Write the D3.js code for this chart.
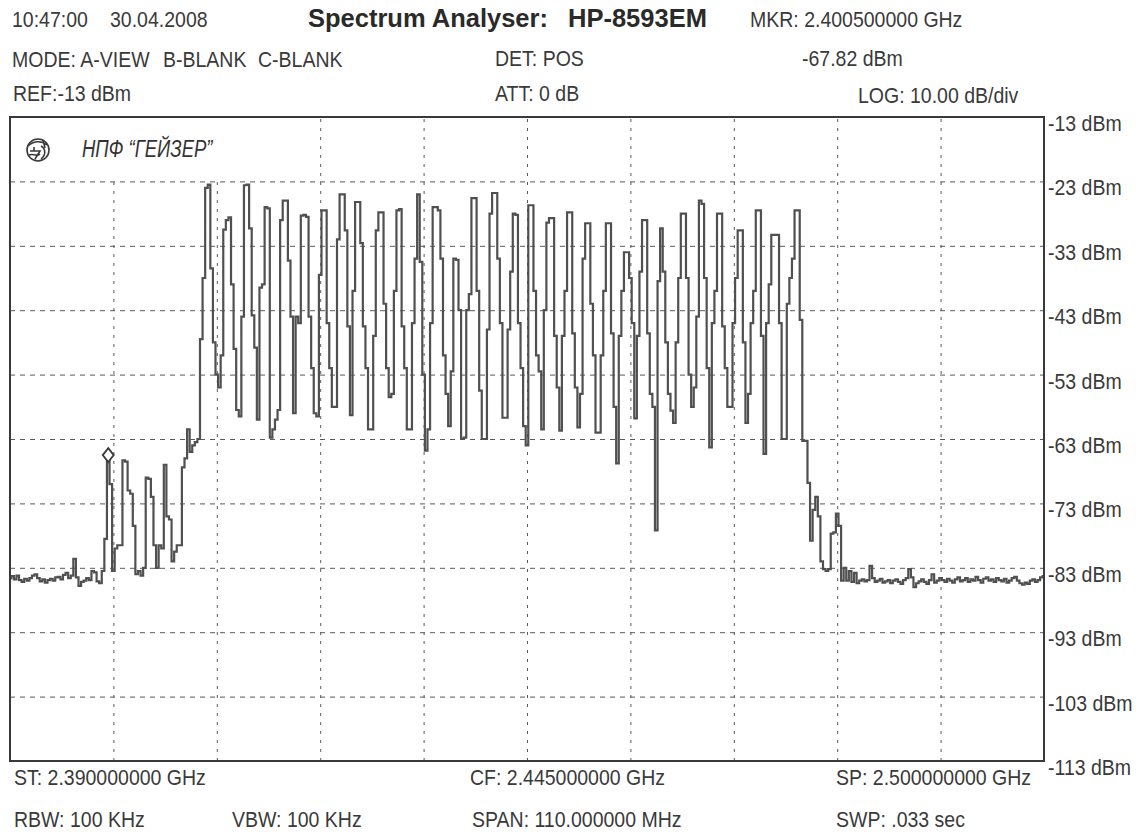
<!DOCTYPE html>
<html><head><meta charset="utf-8">
<script src="https://cdn.jsdelivr.net/npm/d3@7"></script>
<style>
body{margin:0;background:#fff;}
svg{display:block;}
.t{font-family:"Liberation Sans",Arial,sans-serif;font-size:19.5px;fill:#3a3a3a;}
.title{font-family:"Liberation Sans",Arial,sans-serif;font-size:25.5px;font-weight:bold;fill:#2a2a2a;}
.logo{font-family:"Liberation Sans",Arial,sans-serif;font-size:18.5px;font-style:italic;fill:#333;}
</style></head><body>
<svg id="c" width="1140" height="832"></svg>
<script>
// ---------- data ----------
const startGHz = 2.39, centerGHz = 2.445, stopGHz = 2.50;
const refLevel = -13, bottomLevel = -113;
const levelTicks = [-13,-23,-33,-43,-53,-63,-73,-83,-93,-103,-113];
const freqGrid = [2.401,2.412,2.423,2.434,2.445,2.456,2.467,2.478,2.489];
const markerGHz = 2.4005, markerLevel = -67.82;

// trace samples (401 points over the span), dBm
const traceLow = [
-84.6,-84.3,-84.8,-84.2,-84.9,-85.2,-84.7,-85.0,-84.6,-84.2,
-84.0,-84.6,-85.1,-84.8,-85.3,-84.9,-84.7,-85.0,-84.5,-84.4,
-84.8,-84.1,-83.8,-84.6,-84.2,-81.6,-84.5,-85.8,-85.2,-85.0,
-84.6,-84.9,-83.5,-83.7,-85.1,-85.4,
-83.5,-78.5,-65.5,-70,-83.5,-80,-79.5,-79.5,-66.3,-66.5,
-71,-71.5,-76.5,-84,-83.5,-84.2,-83,-69,-69.2,-72,
-79.5,-83,-79.5,-80,-67,-75,-75.5,-82,-80.5,-79.5,
-79.5,-67.4,-66,-61.5,-65,-64,-63.5,-63,-47.5,-38];
const traceBand = [
-24,-23.5,-36.5,-48,-53,-55,
-50,-30.5,-29,-28.6,-39,-49,-58.5,-59.5,
-44,-23.6,-23.5,-30.3,-43.8,-48.8,-60,
-39.5,-39,-27,-27.2,-62.8,-61.5,-60,-58.5,
-29,-26,-26,-35.3,-44,-59,-44,-45,
-28.3,-28.2,-28.5,-44,-52,-59,-59.5,
-37.5,-27.5,-27.5,-45,-52,-58,-58,
-32,-25,-25,-30.6,-45.5,-59.3,
-40,-26.2,-26.2,-32.6,-45.5,-52,-61.5,-61.5,
-47,-30.6,-27.8,-27.8,-42,-52,-56.5,
-56,-40,-27.5,-27.3,-45.5,-52,-61.5,-61.5,
-45,-35,-25,-35.5,-53,-64.8,-61.5,
-45,-27,-27,-27.5,-35,-50,-56,-61,
-52.5,-35,-35.2,-43,-63,-62.8,
-43,-40.5,-25.6,-25.6,-40,-55.5,-63,-63,
-46,-28,-24.8,-24.8,-35,-45,-59.7,-59.7,
-46,-37,-28,-28.2,-45,-52,-61,
-64,-26.7,-26.7,-40,-50,-52.5,-61.5,
-43,-29.4,-28.7,-28.7,-47,-55,-61.7,
-47,-40,-27.8,-27.8,-46.6,-55,-61.2,
-56,-35,-29.5,-29.5,-42,-50,-62,-62,
-50,-40,-29.5,-29.5,-46.6,-58,-66.8,
-47,-40,-34,-34,-38,-45,-59.8,
-47,-37,-29,-29,-46.6,-56,-58,-77.2,
-38.5,-30.3,-37,-48,-56,-58.6,-60.5,
-48,-38,-28,-28,-38,-53,-58,
-55,-44,-26,-26.5,-38,-52,-64.3,
-45,-40,-28,-28,-45.5,-52,-58,-58,
-45,-38,-30.6,-30.6,-48,-60.5,
-56,-45,-40,-27.5,-27.5,-47,-65.3,
-45,-39,-31.3,-31.3,-31.3,-45,-63,-63,
-42,-38,-35,-27.5,-27.5,-44.5,-63.3,-63.3];
const traceHigh = [
-69.8,-78.8,-74,-72,-75,-82,-83.2,-83.5,-83.2,-77.7,
-77.5,-74.6,-76.5,-85,-83,-85,-83.5,-85.2,-83.8,-85.4,
-85.0,-84.8,-85.1,-84.9,-82.7,-84.6,-85.2,-85.0,-84.7,-85.3,
-85.1,-84.9,-85.4,-85.0,-84.8,-85.2,-85.5,-84.9,-84.6,-83.2,
-84.5,-86.0,-85.4,-85.1,-84.8,-85.2,-85.5,-84.9,-84.0,-85.3,
-85.0,-84.6,-84.9,-85.2,-84.7,-85.0,-85.3,-84.8,-84.5,-85.1,
-84.9,-84.6,-85.2,-84.8,-85.0,-84.4,-84.9,-85.3,-84.7,-84.5,
-85.0,-84.8,-85.2,-84.6,-84.9,-85.1,-84.7,-85.3,-85.0,-84.6,
-84.4,-85.0,-85.4,-85.6,-85.3,-85.5,-85.0,-84.8,-85.2,-84.9,
-84.5,-84.3];

const headerLeft = [["10:47:00",12,27],["30.04.2008",110,27],["MODE: A-VIEW",12,67],["B-BLANK",163,67],["C-BLANK",258,67],["REF:-13 dBm",13,101]];
const headerMid = [["DET: POS",495,66],["ATT: 0 dB",495,101]];
const headerRight = [["MKR: 2.400500000 GHz",750,27],["-67.82 dBm",802,66],["LOG: 10.00 dB/div",858,103]];
const footer = [["RBW: 100 KHz",14,827],["VBW: 100 KHz",232,827],["SPAN: 110.000000 MHz",472,827],["SWP: .033 sec",836,827]];

// ---------- chart ----------
const trace = traceLow.concat(traceBand, traceHigh);
const nPts = trace.length;
const freqs = d3.range(nPts).map(i => startGHz + i * (stopGHz - startGHz) / (nPts - 1));

const L = 10, R = 1044, T = 117, B = 761;
const SY = 1.16;
const svg = d3.select("#c");
const x = d3.scaleLinear().domain([startGHz, stopGHz]).range([L, R]);
const y = d3.scaleLinear().domain([bottomLevel, refLevel]).range([B, T]);

svg.append("rect").attr("width",1140).attr("height",832).attr("fill","#fff");

// grid
const gy = svg.append("g").attr("transform",`translate(${L},0)`)
  .call(d3.axisLeft(y).tickValues(levelTicks.slice(1,-1)).tickSize(-(R-L)).tickFormat(""));
gy.select(".domain").remove();
gy.selectAll("line").attr("stroke","#5a5a5a").attr("stroke-width",1).attr("stroke-dasharray","5,5");

const gx = svg.append("g").attr("transform",`translate(0,${B})`)
  .call(d3.axisBottom(x).tickValues(freqGrid).tickSize(-(B-T)).tickFormat(""));
gx.select(".domain").remove();
gx.selectAll("line").attr("stroke","#5a5a5a").attr("stroke-width",1).attr("stroke-dasharray","3,6");

// logo box (covers grid)
const logo = svg.append("g");
logo.append("rect").attr("x",L+1).attr("y",T+1).attr("width",292).attr("height",58).attr("fill","#fff");
const lg = logo.append("g").attr("transform","translate(38,150)").attr("fill","none").attr("stroke","#3a3a3a").attr("stroke-width",1.6);
lg.append("circle").attr("r",11);
lg.append("path").attr("d","M-10,-4 C-5,-9 3,-10 9,-5 M-8,1 L2,1 L-3,9 M-4,-3 L-4,1 M3,-4 C8,-1 8,5 3,9 M-9,5 C-5,3 -2,7 2,4 M5,-10 L7,-2");
logo.append("text").attr("class","logo").attr("transform",`translate(82,157) scale(1,1.3)`).text("НПФ \u201CГЕЙЗЕР\u201D");

// trace
svg.append("clipPath").attr("id","clip").append("rect").attr("x",L).attr("y",T).attr("width",R-L).attr("height",B-T);
const line = d3.line().x((d,i)=>x(freqs[i])).y(d=>y(d)).curve(d3.curveStep);
svg.append("path").datum(trace).attr("clip-path","url(#clip)")
  .attr("d",line).attr("fill","none").attr("stroke","#505050").attr("stroke-width",2.2).attr("stroke-linejoin","miter");

// marker diamond at trace sample nearest marker freq
const mi = d3.minIndex(freqs, f => Math.abs(f - markerGHz));
const mx = x(freqs[mi]), my = y(trace[mi]);
svg.append("path").attr("d",`M${mx},${my-7} L${mx+5.5},${my} L${mx},${my+7} L${mx-5.5},${my} Z`)
  .attr("fill","#fff").attr("stroke","#3a3a3a").attr("stroke-width",1.8);

// frame
svg.append("rect").attr("x",L).attr("y",T).attr("width",R-L).attr("height",B-T)
  .attr("fill","none").attr("stroke","#3a3a3a").attr("stroke-width",2);

// right level labels
const ga = svg.append("g").attr("transform",`translate(${R},0)`)
  .call(d3.axisRight(y).tickValues(levelTicks).tickSize(0).tickPadding(4).tickFormat(d => `${d} dBm`));
ga.select(".domain").remove();
ga.selectAll("text").attr("class","t").attr("dy","0.6em").attr("transform",`scale(1,${SY})`)
  .attr("font-size",null).attr("font-family",null).attr("fill",null);

// texts
const fmt = d3.format(".9f");
const allText = headerLeft.concat(headerMid, headerRight, footer,
  [[`ST: ${fmt(startGHz)} GHz`,14,785],[`CF: ${fmt(centerGHz)} GHz`,470,785],[`SP: ${fmt(stopGHz)} GHz`,836,785]]);
svg.append("g").selectAll("text").data(allText).join("text")
  .attr("class","t").attr("transform",d=>`translate(${d[1]},${d[2]}) scale(1,${SY})`).text(d=>d[0]);
svg.append("text").attr("class","title").attr("x",308).attr("y",27).text("Spectrum Analyser:");
svg.append("text").attr("class","title").attr("x",568).attr("y",27).text("HP-8593EM");
</script>
</body></html>
